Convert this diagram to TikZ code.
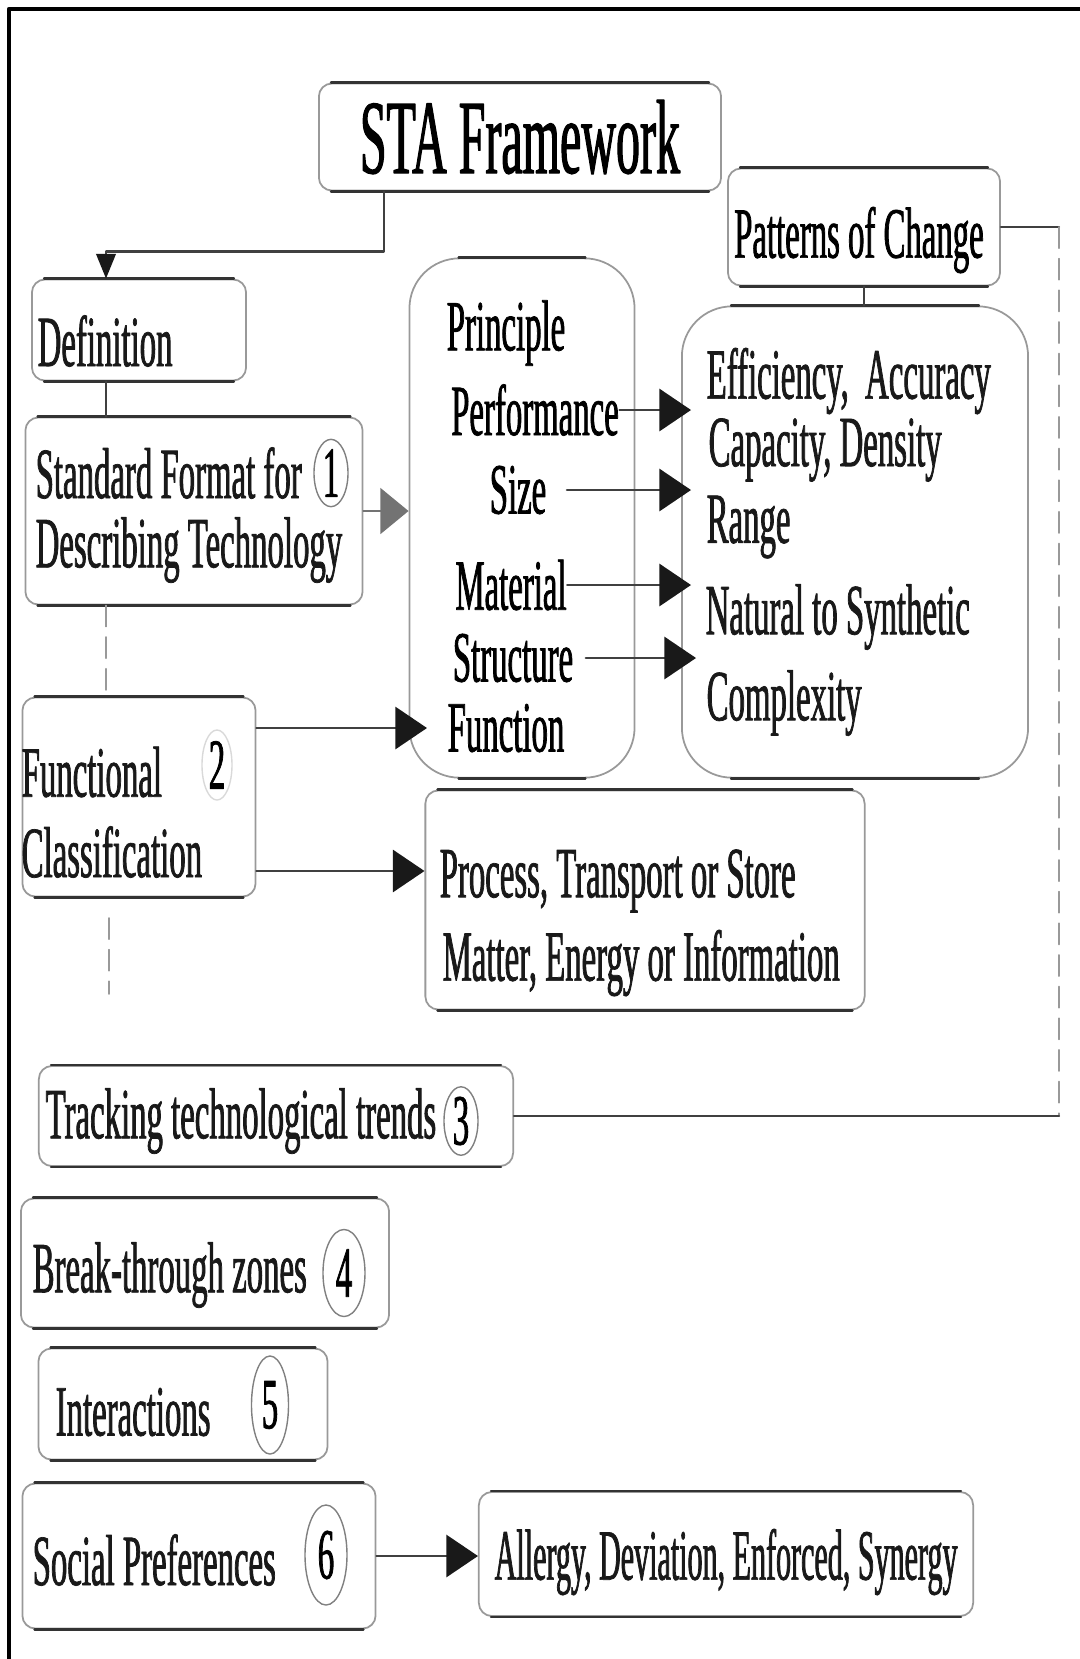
\documentclass[tikz,border=0pt]{standalone}
\usepackage{fontspec}
\setmainfont{Liberation Serif}[FakeStretch=0.455,FakeBold=1]
\newfontfamily\narrowfont{Liberation Serif}[FakeStretch=0.417,FakeBold=1]
\usetikzlibrary{arrows.meta,shapes.geometric}
\begin{document}
\begin{tikzpicture}[x=0.01cm,y=-0.01cm,line join=round,line cap=round,
	font=\fontsize{20.5}{24}\selectfont,
	dark/.style={draw=black!80,line width=0.7pt},
	box/.style={draw=black!40,line width=0.5pt,rounded corners=#1,inner sep=0,
		append after command={([xshift=#1]\tikzlastnode.north west) edge[dark] ([xshift=-#1]\tikzlastnode.north east)
			([xshift=#1]\tikzlastnode.south west) edge[dark] ([xshift=-#1]\tikzlastnode.south east)}},
	box/.default=0.13cm,
	bigbox/.style={box=0.5cm},
	txt/.style={anchor=west,inner sep=0,text=black!90},
	num/.style={ellipse,draw=black!50,line width=0.4pt,inner sep=0},
	link/.style={draw=black!75,line width=0.7pt},
	arr/.style={link,-{Triangle[length=9pt,width=12pt,color=black!90]}},
	faint/.style={draw=black!40,line width=0.5pt,dash pattern=on 6pt off 3pt}]
	\useasboundingbox (0,0) rectangle (1080,1659);
	\draw[line width=1.3pt] (9,1659) -- (9,9) -- (1080,9);
	\node[box,minimum width=4.02cm,minimum height=1.07cm,font=\fontsize{30}{34}\selectfont] (sta) at (520,137) {STA Framework};
	\node[box,minimum width=2.14cm,minimum height=1.01cm] (defn) at (139,330) {};
	\node[txt] (defntxt) at (37,341) {Definition};
	\node[box,minimum width=3.37cm,minimum height=1.87cm] (stdf) at (194,511) {};
	\node[txt] (stdf1) at (35,473) {Standard Format for};
	\node[txt] (stdf2) at (35,550) {Describing Technology};
	\node[num,minimum width=0.34cm,minimum height=0.61cm] (n1) at (331,473) {1};
	\node[box,minimum width=2.33cm,minimum height=1.99cm] (func) at (139,797) {};
	\node[txt] (func1) at (21,772) {Functional};
	\node[txt] (func2) at (21,852) {Classification};
	\node[num,draw=black!15,minimum width=0.3cm,minimum height=0.7cm] (n2) at (217,765) {2};
	\node[bigbox,minimum width=2.25cm,minimum height=5.19cm] (mid) at (522,518) {};
	\node[inner sep=0] (prin) at (506,333) {Principle};
	\node[inner sep=0] (perf) at (535,410) {Performance};
	\node[inner sep=0] (size) at (518,490) {Size};
	\node[inner sep=0] (matl) at (511,585) {Material};
	\node[inner sep=0] (strc) at (513,658) {Structure};
	\node[inner sep=0] (fnc) at (506,728) {Function};
	\node[box,minimum width=2.72cm,minimum height=1.17cm] (pat) at (864,227) {};
	\node[inner sep=0] (pattxt) at (859,240) {Patterns of Change};
	\node[bigbox,minimum width=3.46cm,minimum height=4.71cm] (eff) at (855,542) {};
	\node[txt] (eff1) at (706,381) {Efficiency,\ \ Accuracy};
	\node[txt] (eff2) at (708,450) {Capacity, Density};
	\node[txt] (eff3) at (706,527) {Range};
	\node[txt] (eff4) at (705,617) {Natural to Synthetic};
	\node[txt] (eff5) at (706,703) {Complexity};
	\node[box,minimum width=4.39cm,minimum height=2.19cm] (proc) at (645,900) {};
	\node[txt] (proc1) at (439,881) {Process, Transport or Store};
	\node[txt] (proc2) at (442,963) {Matter, Energy or Information};
	\node[box,minimum width=4.74cm,minimum height=1.0cm] (track) at (276,1116) {};
	\node[txt] (tracktxt) at (45,1121) {Tracking technological trends};
	\node[num,minimum width=0.34cm,minimum height=0.58cm] (n3) at (461,1121) {3};
	\node[box,minimum width=3.68cm,minimum height=1.29cm] (brk) at (205,1263) {};
	\node[txt] (brktxt) at (32,1275) {Break-through zones};
	\node[num,minimum width=0.42cm,minimum height=0.87cm] (n4) at (344,1273) {4};
	\node[box,minimum width=2.89cm,minimum height=1.11cm] (inter) at (183,1404) {};
	\node[txt] (intertxt) at (55,1412) {Interactions};
	\node[num,minimum width=0.37cm,minimum height=0.98cm] (n5) at (270,1405) {5};
	\node[box,minimum width=3.53cm,minimum height=1.45cm] (soc) at (199,1556) {};
	\node[txt] (soctxt) at (32,1560) {Social Preferences};
	\node[num,minimum width=0.42cm,minimum height=1.0cm] (n6) at (326,1555) {6};
	\node[box,minimum width=4.94cm,minimum height=1.24cm] (alg) at (726,1554) {};
	\node[txt,font=\narrowfont\fontsize{20.5}{24}\selectfont] (algtxt) at (494,1562) {Allergy, Deviation, Enforced, Synergy};
	\coordinate (sx) at (384,0);
	\coordinate (dl) at (106,0);
	\coordinate (tailtop) at (109,918);
	\coordinate (tailend) at (109,994);
	\coordinate (pin) at ([yshift=0.29cm]proc.west);
	\draw[link,-{Triangle[length=7pt,width=5.5pt,color=black!90]}] (sta.south -| sx) -- ++(0,60) -| (defn.north -| dl);
	\draw[link] (defn.south -| dl) -- (stdf.north -| dl);
	\draw[faint] (stdf.south -| dl) -- (func.north -| dl);
	\draw[faint] (tailtop) -- (tailend);
	\draw[link,draw=black!55,-{Triangle[length=8pt,width=13pt]}] (stdf.east) -- (stdf.east -| mid.west);
	\draw[arr] (func.north east |- fnc.west) -- ([xshift=-0.2cm]fnc.west);
	\draw[arr] (func.east |- pin) -- (pin);
	\draw[arr,shorten >=-0.1cm] (perf.east) -- (perf.east -| eff.west);
	\draw[arr,shorten <=0.2cm,shorten >=-0.1cm] (size.east) -- (size.east -| eff.west);
	\draw[arr,shorten >=-0.1cm] (matl.east) -- (matl.east -| eff.west);
	\draw[arr,shorten <=0.12cm,shorten >=-0.15cm] (strc.east) -- (strc.east -| eff.west);
	\draw[link] (pat.south) -- (pat.south |- eff.north);
	\draw[link] (pat.east) -- ++(58,0) coordinate (rt);
	\draw[faint] (rt) -- (rt |- track.east);
	\draw[link] (rt |- track.east) -- (track.east);
	\draw[arr] (soc.east) -- (soc.east -| alg.west);
\end{tikzpicture}
\end{document}
